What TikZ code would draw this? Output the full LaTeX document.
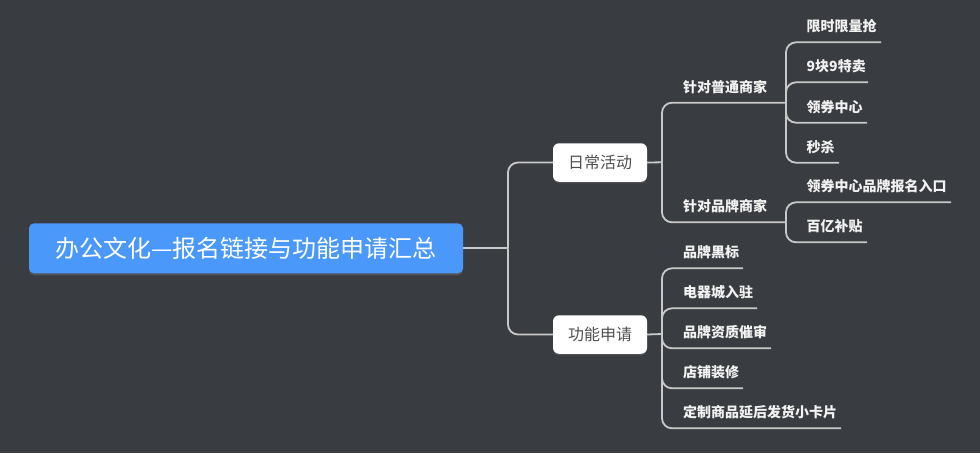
\documentclass[tikz,border=0pt]{standalone}
\usepackage{fontspec}
\setmainfont{Noto Sans CJK SC}
\usetikzlibrary{shadows}
\definecolor{bg}{HTML}{393C41}
\definecolor{rootblue}{HTML}{4A98FA}
\definecolor{linec}{HTML}{C9C9C9}
\definecolor{boxtext}{HTML}{505050}
\definecolor{labtext}{HTML}{F2F2F2}
\tikzset{
  rootbox/.style={fill=rootblue, rounded corners=5pt, minimum width=434pt, minimum height=50pt,
    inner sep=0pt, text=white, font=\fontsize{24}{28}\selectfont,
    drop shadow={opacity=0.35, shadow xshift=0pt, shadow yshift=-2pt}},
  topicbox/.style={fill=white, rounded corners=6pt, minimum width=94pt, minimum height=38.5pt,
    inner sep=0pt, text=boxtext, font=\fontsize{16}{19}\selectfont,
    drop shadow={opacity=0.3, shadow xshift=0pt, shadow yshift=-1.5pt}},
  lab/.style={anchor=west, inner sep=0pt, text=labtext, font=\fontsize{14}{16}\selectfont\bfseries},
  conn/.style={draw=linec, line width=1.8pt},
  branch/.style={conn, rounded corners=10pt},
}
\begin{document}
\begin{tikzpicture}[x=1pt,y=-1pt]
\fill[bg] (0,0) rectangle (980,453);
\useasboundingbox (0,0) rectangle (980,453);

% root and level 1
\node[rootbox] (root) at (246,248.3) {办公文化—报名链接与功能申请汇总};
\node[topicbox] (daily) at (600,162.5) {日常活动};
\node[topicbox] (func) at (600,334.5) {功能申请};

% junction coordinates
\coordinate (j0) at (508,248.3);
\coordinate (j1) at (662,162.3);
\coordinate (j2) at (662,334);
\coordinate (j11) at (786,102.7);
\coordinate (j12) at (786,222.3);

% underline ends
\coordinate (e111) at (881,42.3);
\coordinate (e112) at (868,82.3);
\coordinate (e113) at (867,122.7);
\coordinate (e114) at (839,162.7);
\coordinate (e121) at (951,202.3);
\coordinate (e122) at (867,242.3);
\coordinate (e21) at (743,268.3);
\coordinate (e22) at (757,308.3);
\coordinate (e23) at (771,348.3);
\coordinate (e24) at (743,388.3);
\coordinate (e25) at (841,428.3);

% labels
\node[lab] (n11) at (683,86.7) {针对普通商家};
\node[lab] (n12) at (683,206.3) {针对品牌商家};
\node[lab] (n111) at (806.5,26.3) {限时限量抢};
\node[lab] (n112) at (806.5,66.3) {9块9特卖};
\node[lab] (n113) at (806.5,106.7) {领券中心};
\node[lab] (n114) at (806.5,146.7) {秒杀};
\node[lab] (n121) at (806.5,186.3) {领券中心品牌报名入口};
\node[lab] (n122) at (806.5,226.3) {百亿补贴};
\node[lab] (n21) at (683,252.3) {品牌黑标};
\node[lab] (n22) at (683,292.3) {电器城入驻};
\node[lab] (n23) at (683,332.3) {品牌资质催审};
\node[lab] (n24) at (683,372.3) {店铺装修};
\node[lab] (n25) at (683,412.3) {定制商品延后发货小卡片};

% connectors
\draw[conn] (root.east) -- (j0);
\draw[branch] (j0) |- (daily.west);
\draw[branch] (j0) |- (func.west);

\draw[conn] (daily.east) -- (j1);
\draw[branch] (j1) |- (j11);
\draw[branch] (j1) |- (j12);

\draw[branch] (j11) |- (e111);
\draw[branch] (j11) |- (e112);
\draw[branch] (j11) |- (e113);
\draw[branch] (j11) |- (e114);

\draw[branch] (j12) |- (e121);
\draw[branch] (j12) |- (e122);

\draw[conn] (func.east) -- (j2);
\draw[branch] (j2) |- (e21);
\draw[branch] (j2) |- (e22);
\draw[branch] (j2) |- (e23);
\draw[branch] (j2) |- (e24);
\draw[branch] (j2) |- (e25);
\end{tikzpicture}
\end{document}
